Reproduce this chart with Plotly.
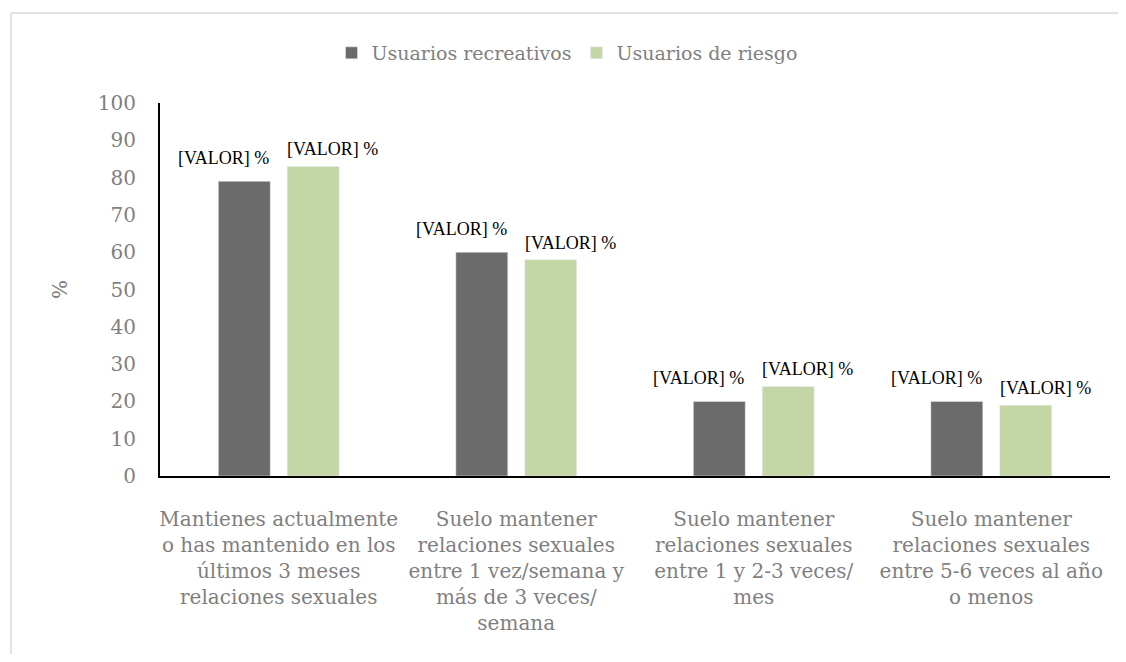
import plotly.graph_objects as go

categories = [
    "Mantienes actualmente<br>o has mantenido en los<br>últimos 3 meses<br>relaciones sexuales",
    "Suelo mantener<br>relaciones sexuales<br>entre 1 vez/semana y<br>más de 3 veces/<br>semana",
    "Suelo mantener<br>relaciones sexuales<br>entre 1 y 2-3 veces/<br>mes",
    "Suelo mantener<br>relaciones sexuales<br>entre 5-6 veces al año<br>o menos",
]
recreativos = [79, 60, 20, 20]
riesgo = [83, 58, 24, 19]
series_names = ["Usuarios recreativos", "Usuarios de riesgo"]
label_text = "[VALOR] %"

dark = "#6b6b6b"
green = "#c5d6a6"
gray_text = "#7f7f7f"
serif = "'Liberation Serif', 'Times New Roman', Times, serif"
serif_wide = "'DejaVu Serif', Georgia, serif"

W, H = 1110, 646
L, R, T, B = 152, 8, 95, 178
pw, ph = W - L - R, H - T - B

fig = go.Figure()
fig.add_trace(go.Bar(x=categories, y=recreativos, name=series_names[0], marker_color=dark))
fig.add_trace(go.Bar(x=categories, y=riesgo, name=series_names[1], marker_color=green))

ann = []
for i, c in enumerate(categories):
    ann.append(dict(x=c, y=recreativos[i], xref="x", yref="y", text=label_text, showarrow=False,
                    xshift=-55, yshift=23, xanchor="center", yanchor="middle",
                    font=dict(family=serif, size=18, color="#000")))
    ann.append(dict(x=c, y=riesgo[i], xref="x", yref="y", text=label_text, showarrow=False,
                    xshift=54, yshift=17, xanchor="center", yanchor="middle",
                    font=dict(family=serif, size=18, color="#000")))

bx0 = (3 - L) / pw
by1 = (T + ph - 5) / ph
border = dict(color="#d9d9d9", width=1.5)

fig.update_layout(
    width=W, height=H,
    margin=dict(l=L, r=R, t=T, b=B, autoexpand=False),
    paper_bgcolor="white", plot_bgcolor="white",
    barmode="group", bargap=0.42, bargroupgap=0.246,
    showlegend=True,
    legend=dict(orientation="h", x=(559) / W, xanchor="center", xref="container",
                y=1 - 26 / H, yref="container", yanchor="top",
                font=dict(family=serif_wide, size=19, color=gray_text),
                itemwidth=30, traceorder="normal"),
    annotations=ann,
    shapes=[
        dict(type="line", xref="paper", yref="paper", x0=bx0, x1=(W + 40 - L) / pw,
             y0=by1, y1=by1, line=border, layer="below"),
        dict(type="line", xref="paper", yref="paper", x0=bx0, x1=bx0,
             y0=by1, y1=(T + ph - H - 40) / ph, line=border, layer="below"),
    ],
    xaxis=dict(showline=True, linecolor="#000", linewidth=2, ticks="", showgrid=False,
               automargin=False,
               tickfont=dict(family=serif_wide, size=20, color=gray_text),
               ticklabelstandoff=24),
    yaxis=dict(range=[0, 100], dtick=10, showline=True, linecolor="#000", linewidth=2,
               showgrid=False, zeroline=False, ticks="", automargin=False,
               tickfont=dict(family=serif_wide, size=20, color=gray_text),
               ticklabelstandoff=18,
               title=dict(text="%", font=dict(family=serif_wide, size=20, color=gray_text), standoff=25)),
)
fig.write_html("out.html")
